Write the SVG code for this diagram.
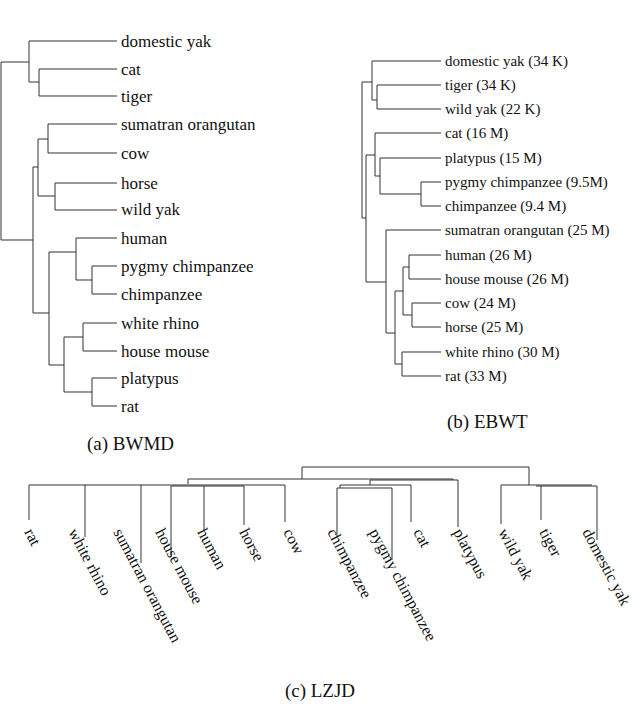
<svg xmlns="http://www.w3.org/2000/svg" width="640" height="709" viewBox="0 0 640 709" font-family="'Liberation Serif', 'Times New Roman', 'DejaVu Serif', serif">
<style>
.l{stroke:#333;stroke-width:1;fill:none}
text{font-family:'Liberation Serif','Times New Roman','DejaVu Serif',serif;fill:#111}
.a{font-size:17px}
.b{font-size:15px}
.c{font-size:16px}
.cap{font-size:19px}
</style>
<rect width="640" height="709" fill="#fff"/>
<g id="connectors">
<path class="l" d="M1,62V240M1,62H29M1,240H33M29,41V82M29,41H117M29,82H39M39,69V96M39,69H117M39,96H117M33,167V313M33,167H38M33,313H49M38,139V196M38,139H48M38,196H55M48,124V153M48,124H117M48,153H117M55,183V210M55,183H117M55,210H117M49,252V365M49,252H76M49,365H64M76,238V280M76,238H117M76,280H92M92,266V294M92,266H117M92,294H117M64,337V392M64,337H83M64,392H92M83,323V351M83,323H117M83,351H117M92,378V406M92,378H117M92,406H117"/>
<path class="l" d="M362,82V218M362,82H372M362,218H366M372,61V100M372,61H441M372,100H377M377,85V109M377,85H441M377,109H441M366,155V282M366,155H375M366,282H386M375,133V176M375,133H441M375,176H380M380,158V194M380,158H441M380,194H421M421,182V206M421,182H441M421,206H441M386,230V333M386,230H441M386,333H395M395,291V364M395,291H403M395,364H402M403,267V315M403,267H409M403,315H412M409,255V279M409,255H441M409,279H441M412,303V327M412,303H441M412,327H441M402,352V376M402,352H441M402,376H441"/>
<path class="l" d="M302,467H529M302,467V479M529,467V485M188,479H453M188,479V484M29,485H285M29,485V520M85,485V537M141,485V563M171,486V555M171,486H244M204,486V530M244,486V525M285,485V522M453,479V480M370,480H458M458,480V527M370,480V485M340,485H411M411,485V522M340,485V488M337,488H392M337,488V537M392,488V560M501,485H592M501,485V524M541,486V520M536,486H597M597,486V540"/>
</g>
<g id="labels-a">
<text class="a" x="121" y="47">domestic yak</text>
<text class="a" x="121" y="75">cat</text>
<text class="a" x="121" y="102">tiger</text>
<text class="a" x="121" y="130">sumatran orangutan</text>
<text class="a" x="121" y="159">cow</text>
<text class="a" x="121" y="189">horse</text>
<text class="a" x="121" y="215">wild yak</text>
<text class="a" x="121" y="244">human</text>
<text class="a" x="121" y="272">pygmy chimpanzee</text>
<text class="a" x="121" y="300">chimpanzee</text>
<text class="a" x="121" y="329">white rhino</text>
<text class="a" x="121" y="357">house mouse</text>
<text class="a" x="121" y="384">platypus</text>
<text class="a" x="121" y="412">rat</text>
<text class="cap" x="87" y="450">(a) BWMD</text>
</g>
<g id="labels-b">
<text class="b" x="445" y="66">domestic yak (34 K)</text>
<text class="b" x="445" y="90">tiger (34 K)</text>
<text class="b" x="445" y="114">wild yak (22 K)</text>
<text class="b" x="445" y="138">cat (16 M)</text>
<text class="b" x="445" y="163">platypus (15 M)</text>
<text class="b" x="445" y="187">pygmy chimpanzee (9.5M)</text>
<text class="b" x="445" y="211">chimpanzee (9.4 M)</text>
<text class="b" x="445" y="235">sumatran orangutan (25 M)</text>
<text class="b" x="445" y="260">human (26 M)</text>
<text class="b" x="445" y="284">house mouse (26 M)</text>
<text class="b" x="445" y="308">cow (24 M)</text>
<text class="b" x="445" y="332">horse (25 M)</text>
<text class="b" x="445" y="357">white rhino (30 M)</text>
<text class="b" x="445" y="381">rat (33 M)</text>
<text class="cap" x="447" y="428">(b) EBWT</text>
</g>
<g id="labels-c">
<text class="c" transform="translate(24,532) rotate(62)">rat</text>
<text class="c" transform="translate(68,532) rotate(62)">white rhino</text>
<text class="c" transform="translate(113,532) rotate(62)">sumatran orangutan</text>
<text class="c" transform="translate(155,532) rotate(62)">house mouse</text>
<text class="c" transform="translate(197,532) rotate(62)">human</text>
<text class="c" transform="translate(239,532) rotate(62)">horse</text>
<text class="c" transform="translate(283,532) rotate(62)">cow</text>
<text class="c" transform="translate(327,532) rotate(62)">chimpanzee</text>
<text class="c" transform="translate(369,532) rotate(62)">pygmy chimpanzee</text>
<text class="c" transform="translate(413,532) rotate(62)">cat</text>
<text class="c" transform="translate(453,532) rotate(62)">platypus</text>
<text class="c" transform="translate(498,532) rotate(62)">wild yak</text>
<text class="c" transform="translate(539,532) rotate(62)">tiger</text>
<text class="c" transform="translate(582,532) rotate(62)">domestic yak</text>
<text class="cap" x="320" y="697" text-anchor="middle">(c) LZJD</text>
</g>
</svg>
